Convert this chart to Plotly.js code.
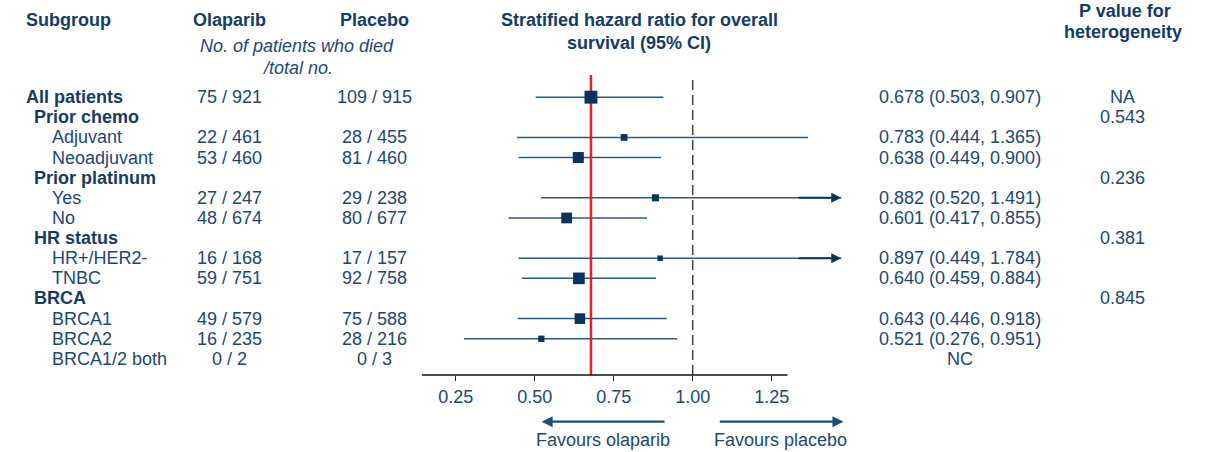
<!DOCTYPE html>
<html>
<head>
<meta charset="utf-8">
<script src="https://cdn.plot.ly/plotly-3.0.1.min.js"></script>
<style>html,body{margin:0;padding:0;background:#fff;}#chart{width:1206px;height:452px;}</style>
</head>
<body>
<div id="chart"></div>
<script>
// ---- data ----
const subgroups = ['All patients','Prior chemo','Adjuvant','Neoadjuvant','Prior platinum','Yes','No','HR status','HR+/HER2-','TNBC','BRCA','BRCA1','BRCA2','BRCA1/2 both'];
const level = [0,1,2,2,1,2,2,1,2,2,1,2,2,2];
const olaparibCounts = ['75 / 921','','22 / 461','53 / 460','','27 / 247','48 / 674','','16 / 168','59 / 751','','49 / 579','16 / 235','0 / 2'];
const placeboCounts  = ['109 / 915','','28 / 455','81 / 460','','29 / 238','80 / 677','','17 / 157','92 / 758','','75 / 588','28 / 216','0 / 3'];
const hr    = [0.678,null,0.783,0.638,null,0.882,0.601,null,0.897,0.640,null,0.643,0.521,null];
const lower = [0.503,null,0.444,0.449,null,0.520,0.417,null,0.449,0.459,null,0.446,0.276,null];
const upper = [0.907,null,1.365,0.900,null,1.491,0.855,null,1.784,0.884,null,0.918,0.951,null];
const pValues = ['NA','0.543','','','0.236','','','0.381','','','0.845','','',''];
const tickVals = [0.25,0.50,0.75,1.00,1.25];
const tickLabels = ['0.25','0.50','0.75','1.00','1.25'];

// ---- layout constants ----
const W = 1206, H = 452;
const ML = 421, MR = 360, MT = 75, MB = 77;
const plotW = W - ML - MR, plotH = H - MT - MB;
const xRange = [0.1402, 1.4851];
const yRange = [13.8, -1.1];
const axisExtent = [0.143, 1.30];
const arrowCap = 1.47, arrowStart = 1.33;
const FONT = 'Liberation Sans, Arial, sans-serif';
const TXT = '#1d4872', HEAD = '#143d64', NAVY = '#07345c', LINE = '#2b5884';

const px = X => (X - ML) / plotW;            // page px -> paper x
const py = Y => (H - MB - Y) / plotH;        // page px -> paper y

const traces = [];
// CI lines
subgroups.forEach((s,i) => {
  if (hr[i] == null) return;
  traces.push({type:'scatter', mode:'lines', x:[lower[i], Math.min(upper[i], arrowCap)], y:[i,i],
    line:{color:LINE, width:1.5}, hoverinfo:'skip', showlegend:false, cliponaxis:false});
});
// reference line at overall HR
traces.push({type:'scatter', mode:'lines', x:[hr[0],hr[0]], y:[yRange[1]-0.05, yRange[0]],
  line:{color:'#e8201f', width:2.5}, hoverinfo:'skip', showlegend:false, cliponaxis:false});
// point estimates
const deaths = subgroups.map((s,i) => olaparibCounts[i] ? parseInt(olaparibCounts[i]) + parseInt(placeboCounts[i]) : 0);
const idx = subgroups.map((s,i)=>i).filter(i => hr[i] != null);
traces.push({type:'scatter', mode:'markers', x:idx.map(i=>hr[i]), y:idx,
  marker:{symbol:'square', color:NAVY, opacity:1, size:idx.map(i=>0.95*Math.sqrt(deaths[i])), line:{width:0}},
  hoverinfo:'skip', showlegend:false, cliponaxis:false});

const ann = [];
const T = (text, X, Y, opts={}) => ann.push(Object.assign({text, x:px(X), y:py(Y), xref:'paper', yref:'paper',
  showarrow:false, xanchor:'center', yanchor:'middle', font:{family:FONT, size:18, color:TXT}}, opts));
const R = (text, X, row, opts={}) => ann.push(Object.assign({text, x:px(X), y:row, xref:'paper', yref:'y',
  showarrow:false, xanchor:'center', yanchor:'middle', font:{family:FONT, size:18, color:TXT}}, opts));
const bold = t => '<b>'+t+'</b>';
const headFont = {family:FONT,size:18,color:HEAD};

// headers
T(bold('Subgroup'), 24, 20, {xanchor:'left', font:headFont});
T(bold('Olaparib'), 229, 20, {font:headFont});
T(bold('Placebo'), 374, 20, {font:headFont});
T('<i>No. of patients who died</i>', 297, 46);
T('<i>/total no.</i>', 297, 68);
T(bold('Stratified hazard ratio for overall'), 639, 20, {font:headFont});
T(bold('survival (95% CI)'), 639, 43, {font:headFont});
T(bold('P value for'), 1125, 11, {font:headFont});
T(bold('heterogeneity'), 1123, 32, {font:headFont});

// row texts
const levelX = [24, 32, 50];
subgroups.forEach((s,i) => {
  const isBold = level[i] < 2;
  R(isBold ? bold(s) : s, levelX[level[i]], i, {xanchor:'left', font:isBold ? headFont : {family:FONT,size:18,color:TXT}});
  if (olaparibCounts[i]) R(olaparibCounts[i], 229, i);
  if (placeboCounts[i]) R(placeboCounts[i], 374, i);
  let hrText = '';
  if (hr[i] != null) hrText = `${hr[i].toFixed(3)} (${lower[i].toFixed(3)}, ${upper[i].toFixed(3)})`;
  else if (olaparibCounts[i]) hrText = 'NC';
  if (hrText) R(hrText, 960, i);
  if (pValues[i]) R(pValues[i], 1122, i);
  // arrows for truncated CIs
  if (hr[i] != null && upper[i] > arrowCap) {
    ann.push({text:'', x:arrowCap, y:i, xref:'x', yref:'y', ax:arrowStart, ay:0, axref:'x', ayref:'pixel',
      showarrow:true, arrowhead:2, arrowsize:1, arrowwidth:2, arrowcolor:NAVY, standoff:0});
  }
});

// favours arrows and labels
ann.push({text:'', x:0.522, y:py(421.7), xref:'x', yref:'paper', ax:0.9155, ay:0, axref:'x', ayref:'pixel',
  showarrow:true, arrowhead:2, arrowsize:1, arrowwidth:2.2, arrowcolor:'#1b4d78', standoff:0});
ann.push({text:'', x:1.477, y:py(421.7), xref:'x', yref:'paper', ax:1.081, ay:0, axref:'x', ayref:'pixel',
  showarrow:true, arrowhead:2, arrowsize:1, arrowwidth:2.2, arrowcolor:'#1b4d78', standoff:0});
T('Favours olaparib', 603, 440);
T('Favours placebo', 780.5, 440);

const shapes = [
  {type:'line', xref:'x', yref:'paper', x0:1, x1:1, y0:0, y1:0.99, layer:'below',
   line:{color:'#444', width:1.5, dash:'10px,5px'}},
  {type:'line', xref:'x', yref:'paper', x0:axisExtent[0], x1:axisExtent[1], y0:0, y1:0,
   line:{color:'#111', width:1.5}}
];

const layout = {
  width:W, height:H, margin:{l:ML, r:MR, t:MT, b:MB, pad:0},
  paper_bgcolor:'#fff', plot_bgcolor:'rgba(0,0,0,0)',
  font:{family:FONT, size:18, color:TXT},
  xaxis:{range:xRange, showline:false, zeroline:false, showgrid:false, ticks:'outside', ticklen:5, tickwidth:1.5,
    tickcolor:'#222', tickvals:tickVals, ticktext:tickLabels, tickfont:{family:FONT, size:18, color:TXT}, fixedrange:true},
  yaxis:{range:yRange, visible:false, showgrid:false, zeroline:false, fixedrange:true},
  shapes, annotations:ann, showlegend:false
};
Plotly.newPlot('chart', traces, layout, {displayModeBar:false, staticPlot:true});
</script>
</body>
</html>
